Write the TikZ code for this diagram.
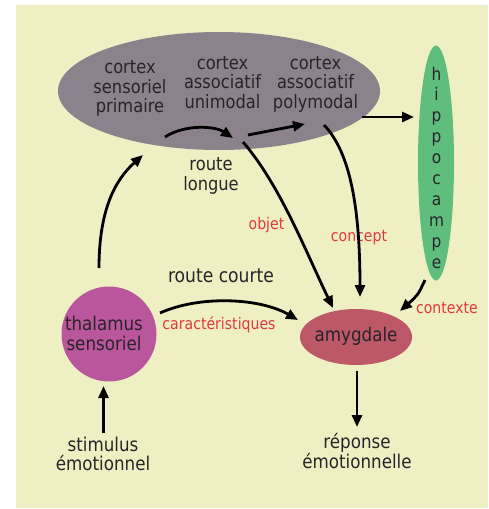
\documentclass[tikz,border=0pt]{standalone}
\usepackage{fontspec}
\setmainfont{DejaVu Sans}[FakeStretch=0.88]
\usetikzlibrary{shapes.geometric,arrows.meta}
\definecolor{bgc}{RGB}{238,240,196}
\definecolor{ctxc}{RGB}{140,130,140}
\definecolor{hipc}{RGB}{95,190,125}
\definecolor{amyc}{RGB}{188,88,104}
\definecolor{thalc}{RGB}{186,86,156}
\definecolor{labc}{RGB}{225,55,65}
\definecolor{txtc}{RGB}{40,36,40}
\begin{document}
\begin{tikzpicture}[x=1pt,y=-1pt,
  arr/.style={line width=2.8pt,black,-{Triangle[length=12pt,width=10pt]}},
  blob/.style={inner sep=0,draw=none},
  ctxtext/.style={text=txtc,font=\fontsize{18.5}{19.5}\selectfont,align=center,inner sep=0,anchor=base},
  bigtext/.style={text=txtc,font=\fontsize{19}{20}\selectfont,align=center,inner sep=0,anchor=base},
  redlab/.style={text=labc,font=\fontsize{16}{18}\selectfont,inner sep=0,anchor=base}
]
\useasboundingbox (0,0) rectangle (488,509);
\fill[white] (0,0) rectangle (488,509);
\fill[bgc] (16,5) rectangle (488,508);
% shapes
\node[blob,ellipse,fill=ctxc,minimum width=322,minimum height=118] (cx) at (219,91) {};
\node[blob,ellipse,fill=hipc,minimum width=36,minimum height=235] (hip) at (436,163) {};
\node[blob,ellipse,fill=amyc,minimum width=112,minimum height=56] (amy) at (356,337) {};
\node[blob,circle,fill=thalc,minimum size=95] (thal) at (109,334) {};
% texts (base anchor = baseline of the last line)
\node[ctxtext] (c1) at (130,112.5) {cortex\\sensoriel\\primaire};
\node[ctxtext] (c2) at (222.5,108) {cortex\\associatif\\unimodal};
\node[ctxtext] (c3) at (315.5,108) {cortex\\associatif\\polymodal};
\foreach \l [count=\i from 0] in {h,i,p,p,o,c,a,m,p,e}
  \node[text=txtc,font=\fontsize{17.5}{20}\selectfont,inner sep=0,anchor=base] (hl\i) at (436.5,80+20.9*\i) {\l};
\node[ctxtext,font=\fontsize{18.5}{20}\selectfont] (rl) at (211,190) {route\\longue};
\node[ctxtext,font=\fontsize{19.5}{20}\selectfont] (rc) at (221,282) {route courte};
\node[bigtext,font=\fontsize{19}{19.5}\selectfont] (tt) at (104,350) {thalamus\\sensoriel};
\node[text=txtc,font=\fontsize{19}{20}\selectfont,inner sep=0,anchor=base] (at) at (356,341) {amygdale};
\node[bigtext,font=\fontsize{19}{18.5}\selectfont] (stim) at (103,470) {stimulus\\émotionnel};
\node[bigtext] (rep) at (357,468) {réponse\\émotionnelle};
\node[redlab] (car) at (219,329) {caractéristiques};
\node[redlab] (obj) at (266.5,229) {objet};
\node[redlab] (con) at (359,241) {concept};
\node[redlab] (ctx) at (447,313) {contexte};
% connector end points
\coordinate (thalTop) at (99,268);
\coordinate (cxBotL) at (143,155);
\coordinate (a1s) at (165,137);
\coordinate (a1e) at (233,138);
\coordinate (a2s) at (248,135);
\coordinate (a2e) at (305,124);
\coordinate (cxR) at (362,117);
\coordinate (hipL) at (414,117);
\coordinate (objS) at (243,142);
\coordinate (amyNW) at (333,308);
\coordinate (conS) at (324,125);
\coordinate (amyN) at (360,297);
\coordinate (hipB) at (425,280);
\coordinate (amyNE) at (400,311);
\coordinate (thalR) at (160,313);
\coordinate (amyW) at (298,320);
\coordinate (stimTop) at (103.5,433);
\coordinate (thalB) at (103.5,386);
\coordinate (amyB) at (357,371);
\coordinate (repTop) at (357,427);
% connectors
\draw[arr] (thalTop) .. controls (99,210) and (115,180) .. (cxBotL);
\draw[arr] (a1s) .. controls (185,124) and (215,126) .. (a1e);
\draw[arr] (a2s) -- (a2e);
\draw[arr] (cxR) -- (hipL);
\draw[arr] (objS) .. controls (280,185) and (305,250) .. (amyNW);
\draw[arr] (conS) .. controls (348,150) and (360,200) .. (amyN);
\draw[arr] (hipB) .. controls (418,295) .. (amyNE);
\draw[arr] (thalR) .. controls (200,295) and (260,298) .. (amyW);
\draw[arr] (stimTop) -- (thalB);
\draw[arr] (amyB) -- (repTop);
\end{tikzpicture}
\end{document}
